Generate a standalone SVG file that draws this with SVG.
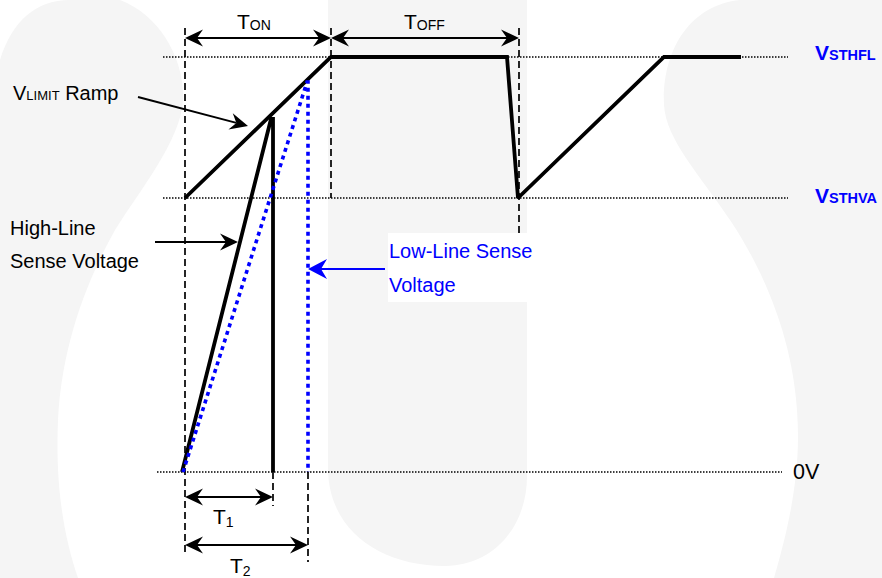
<svg xmlns="http://www.w3.org/2000/svg" width="882" height="578" viewBox="0 0 882 578">
<style>
text{font-family:"Liberation Sans",Arial,sans-serif;fill:#000}
.blue{fill:#0000ff}
.wm{fill:#f5f5f5;stroke:none}
.dot{stroke:#000;stroke-width:1.4;stroke-dasharray:1.5 1.5;fill:none}
.dash{stroke:#000;stroke-width:1.7;stroke-dasharray:7 4;fill:none}
.wave{stroke:#000;stroke-width:3.8;fill:none;stroke-linejoin:miter;stroke-miterlimit:2}
.bdot{stroke:#0000ff;stroke-width:3.6;stroke-dasharray:4 4;fill:none}
.dim{stroke:#000;stroke-width:2;fill:none;marker-start:url(#ah);marker-end:url(#ah)}
.ptr{stroke:#000;stroke-width:2;fill:none;marker-end:url(#ah)}
.bptr{stroke:#0000ff;stroke-width:2;fill:none;marker-end:url(#bah)}
</style>
<defs>
<marker id="ah" markerUnits="userSpaceOnUse" viewBox="-19 -10 21 20" refX="-12" refY="0" markerWidth="21" markerHeight="20" orient="auto-start-reverse">
<path d="M0,0 L-18,-8.5 L-12,0 L-18,8.5 Z" fill="#000"/>
</marker>
<marker id="bah" markerUnits="userSpaceOnUse" viewBox="-20 -11 22 22" refX="-13" refY="0" markerWidth="22" markerHeight="22" orient="auto">
<path d="M0,0 L-19,-10 L-13,0 L-19,10 Z" fill="#0000ff"/>
</marker>
</defs>
<rect width="882" height="578" fill="#fff"/>
<g id="watermark">
<path class="wm" d="M0,60 C12,22 35,0 70,0 L120,0 C160,15 185,60 183,100 C181,140 140,190 115,230 C90,275 62,340 58,420 C55,490 65,540 78,578 L0,578 Z"/>
<path class="wm" d="M328,0 H527 V476 C527,528 492,566 445,566 C380,566 328,530 328,468 Z"/>
<path class="wm" d="M882,0 H740 C690,5 662,50 664,105 C666,140 700,175 730,220 C760,265 798,340 798,436 C798,490 785,540 774,578 H882 Z"/>
<rect x="388" y="233" width="139" height="69" fill="#fff"/>
</g>
<g id="gridlines">
<line class="dot" x1="163" y1="57" x2="788" y2="57"/>
<line class="dot" x1="163" y1="198" x2="788" y2="198"/>
<line class="dot" x1="157" y1="472" x2="782" y2="472"/>
<line class="dash" x1="185" y1="28" x2="185" y2="556"/>
<line class="dash" x1="331" y1="28" x2="331" y2="198"/>
<line class="dash" x1="519" y1="28" x2="519" y2="234"/>
<line class="dash" x1="273" y1="472" x2="273" y2="506"/>
<line class="dash" x1="308" y1="472" x2="308" y2="562"/>
</g>
<g id="vlimit-ramp">
<polyline class="wave" points="185,198 331,57 507,57 518,198 664,57 741,57"/>
</g>
<g id="high-line-sense">
<path class="wave" d="M182,472 L271,119 L273,119 L273,472"/>
</g>
<g id="low-line-sense">
<path class="bdot" d="M183,472 L307,82 L308,82 L308,472"/>
</g>
<g id="connectors">
<path class="dim" d="M197,38 H319"/>
<path class="dim" d="M343,38 H507"/>
<path class="dim" d="M197,497 H261"/>
<path class="dim" d="M197,545 H296"/>
<path class="ptr" d="M138,97 L236.4,122.9"/>
<path class="ptr" d="M155,242 H226"/>
<path class="bptr" d="M385,269 H321"/>
</g>
<g id="labels">
<text x="237" y="29" font-size="21">T<tspan font-size="14" dy="1">ON</tspan></text>
<text x="404" y="29" font-size="21">T<tspan font-size="14" dy="1">OFF</tspan></text>
<text x="213" y="524" font-size="21">T<tspan font-size="14" dy="3">1</tspan></text>
<text x="230" y="573" font-size="21">T<tspan font-size="14" dy="3">2</tspan></text>
<text x="13" y="100" font-size="20">V<tspan font-size="13">LIMIT</tspan> Ramp</text>
<text x="10" y="235" font-size="20">High-Line</text>
<text x="10" y="268" font-size="20">Sense Voltage</text>
<text class="blue" x="389" y="258" font-size="20">Low-Line Sense</text>
<text class="blue" x="389" y="292" font-size="20">Voltage</text>
<text class="blue" x="815" y="60" font-size="21" font-weight="bold">V<tspan font-size="14.5">STHFL</tspan></text>
<text class="blue" x="815" y="203" font-size="21" font-weight="bold">V<tspan font-size="14.5">STHVA</tspan></text>
<text x="793" y="479" font-size="21.5">0V</text>
</g>
</svg>
